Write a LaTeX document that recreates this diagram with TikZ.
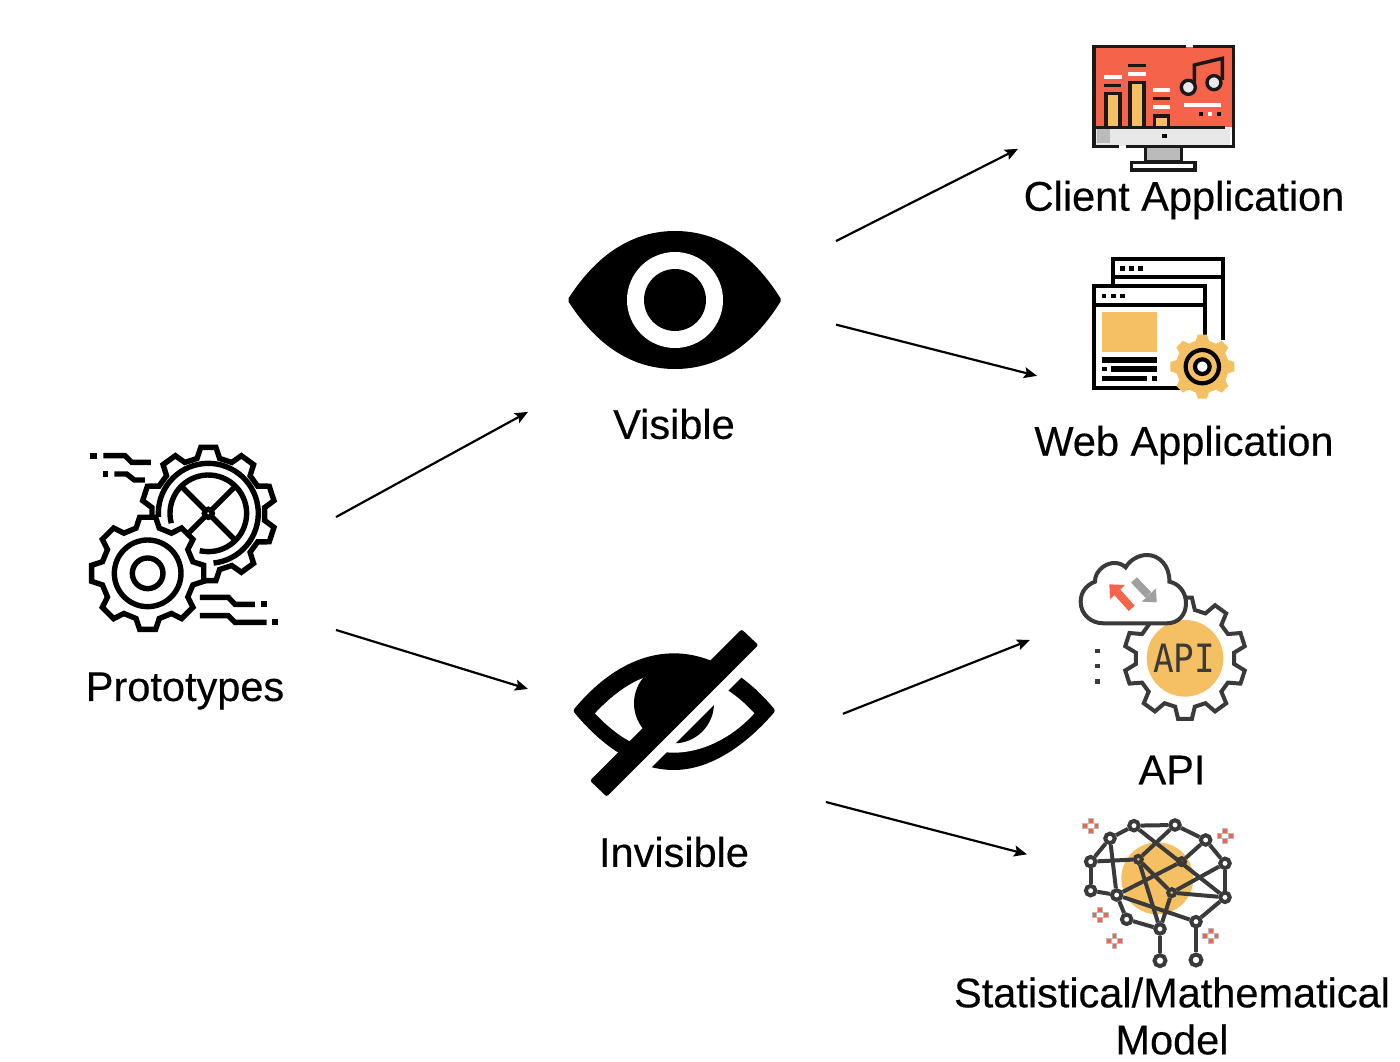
\documentclass[tikz,border=0pt]{standalone}
\usepackage{fontspec}
\setmainfont[FakeBold=0.3]{Liberation Sans}
\newfontfamily\apifont{DejaVu Sans Mono}
\usepackage{xcolor}
\usetikzlibrary{positioning, arrows.meta}
\definecolor{iconorange}{HTML}{F5C063}
\definecolor{iconred}{HTML}{F4634A}
\definecolor{icondark}{HTML}{3A3A3A}
\definecolor{icongray}{HTML}{BBBBBB}
\definecolor{iconpale}{HTML}{E8E8E8}
\newcommand{\gearpath}[6]{plot[samples at={0,...,#6}, variable=\t]
  ({#1+(mod(\t,4)<1.5 ? #3 : #4)*cos(\t*90/#5-45/#5-90+(mod(\t,2)<0.5 ? -20 : 20)/#5)},
   {#2+(mod(\t,4)<1.5 ? #3 : #4)*sin(\t*90/#5-45/#5-90+(mod(\t,2)<0.5 ? -20 : 20)/#5)}) -- cycle}
\newcommand{\ringarc}[5]{plot[domain=#4:#5, samples=50, variable=\t] ({#1+#3*cos(\t)},{#2+#3*sin(\t)})}
\newcommand{\sparkle}[2]{\foreach \dx/\dy in {0/-15,-17/0,17/0,0/15} {
    \filldraw[sparkdot] (#1+\dx-7,#2+\dy-7) rectangle (#1+\dx+7,#2+\dy+7);}}
\begin{document}
\begin{tikzpicture}[
  x=1pt, y=-1pt,
  iconbox/.style={rectangle, inner sep=0pt, outer sep=0pt},
  caption/.style={font=\fontsize{41.5}{47}\selectfont, align=center, inner sep=0pt},
  arrow/.style={-{Stealth[length=13pt, width=11pt, inset=2.5pt]}, line width=2.2pt, color=black},
  zoomgrid/.style={x=0.3333pt, y=-0.3333pt},
  ink/.style={draw=black, line width=5.4pt, line cap=butt},
  frameline/.style={draw=black!90, line width=3.4pt},
  cutline/.style={draw=icondark, line width=4pt},
  sparkdot/.style={fill=iconred, draw=icongray, line width=0.4pt},
  knot/.style={circle, draw=icondark, fill=white, line width=4pt, inner sep=0pt, minimum size=9.5pt},
  bigknot/.style={knot, minimum size=11pt},
  hotknot/.style={knot, fill=iconorange, minimum size=7pt},
  link/.style={draw=icondark, line width=4pt},
]
\useasboundingbox (0,0) rectangle (1400,1062);

\node[iconbox, minimum width=302pt, minimum height=240pt] (proto) at (185,575) {};
\node[iconbox, minimum width=308pt, minimum height=200pt, right=192pt of proto, yshift=245pt] (visible) {};
\node[iconbox, minimum width=315pt, minimum height=204pt, right=192pt of proto, yshift=-125pt] (invisible) {};
\node[iconbox, minimum width=290pt, minimum height=140pt, right=182pt of visible, yshift=220pt] (client) {};
\node[iconbox, minimum width=252pt, minimum height=150pt, right=201pt of visible] (web) {};
\node[iconbox, minimum width=270pt, minimum height=170pt, right=187pt of invisible, yshift=60pt] (api) {};
\node[iconbox, minimum width=266pt, minimum height=150pt, right=184pt of invisible, yshift=-195pt] (model) {};

\node[caption] (prototext) at (185,691) {Prototypes};
\node[caption] (visibletext) at (674,424) {Visible};
\node[caption] (invisibletext) at (674,852) {Invisible};
\node[caption] (clienttext) at (1184,200) {Client Application};
\node[caption] (webtext) at (1184,445) {Web Application};
\node[caption] (apitext) at (1172,770) {API};
\node[caption] (modeltext) at (1172,1016) {Statistical/Mathematical\\Model};

\draw[arrow] (proto.21.4) -- (visible.208);
\draw[arrow] (proto.-20.7) -- (invisible.176.37);
\draw[arrow] (visible.30.6) -- (client.195.05);
\draw[arrow] (visible.2.2) -- (web.200.06);
\draw[arrow] (invisible.-5.5) -- (api.west);
\draw[arrow] (invisible.-36.8) -- (model.163.66);

\begin{scope}[shift={(75,435)}, zoomgrid]
  \draw[ink, fill=white] \gearpath{400}{237}{201}{170}{10}{39};
  \draw[ink] \ringarc{400}{235}{150}{176}{444};
  \draw[ink] \ringarc{400}{235}{115}{165}{463};
  \foreach \ang in {45,135,225,315}
    \draw[ink] ({400+14*cos(\ang)},{235+14*sin(\ang)}) -- ({400+112*cos(\ang)},{235+112*sin(\ang)});
  \draw[ink] (400,235) circle[radius=12];
  \draw[ink, fill=white] \gearpath{218}{415}{170}{140}{8}{31};
  \draw[ink] (218,415) circle[radius=100];
  \draw[ink] (218,415) circle[radius=46];
  \draw[ink] (85,62) -- (150,62) -- (170,82) -- (228,82);
  \draw[ink] (118,117) -- (155,117) -- (178,135) -- (210,135);
  \draw[ink] (375,487) -- (460,487) -- (480,508) -- (540,508);
  \draw[ink] (375,542) -- (460,542) -- (480,562) -- (575,562);
  \fill (45,53) rectangle (65,71);
  \fill (83,108) rectangle (100,126);
  \fill (557,499) rectangle (575,517);
  \fill (592,553) rectangle (610,571);
\end{scope}

\fill[draw=black, line width=6pt, line join=round] (571,300) .. controls (600,255) and (635,234) .. (675,234)
  .. controls (715,234) and (750,255) .. (778,300) .. controls (750,345) and (715,366) .. (675,366)
  .. controls (635,366) and (600,345) .. (571,300) -- cycle;
\fill[white] (675,300) circle[radius=48];
\fill[black] (675,300) circle[radius=31];

\begin{scope}[shift={(555,620)}, zoomgrid]
  \fill[draw=black, line width=6pt, line join=round] (65,272) .. controls (150,170) and (250,109) .. (357,109)
    .. controls (465,109) and (570,175) .. (650,272) .. controls (570,365) and (465,441) .. (357,441)
    .. controls (250,441) and (150,375) .. (65,272) -- cycle;
  \fill[white] (120,280) .. controls (200,195) and (275,156) .. (357,156)
    .. controls (440,156) and (530,205) .. (598,280) .. controls (530,355) and (440,398) .. (357,398)
    .. controls (275,398) and (200,365) .. (120,280) -- cycle;
  \fill[black] (357,250) circle[radius=120];
  \fill[white] (700,-15) -- (747,-15) -- (147,585) -- (100,585) -- cycle;
  \fill[black, rounded corners=2pt] (560,28) -- (610,75) -- (155,530) -- (105,482) -- cycle;
\end{scope}

\begin{scope}[shift={(1060,30)}, zoomgrid]
  \fill[iconred] (105,50) rectangle (518,292);
  \fill[iconpale] (105,294) rectangle (510,348);
  \fill[icongray] (110,298) rectangle (150,340);
  \draw[frameline, fill=iconorange] (138,290) -- (138,190) -- (180,190) -- (180,290);
  \draw[frameline, fill=iconorange] (210,290) -- (210,158) -- (252,158) -- (252,290);
  \draw[frameline, fill=iconorange] (283,290) -- (283,258) -- (325,258) -- (325,290);
  \draw[frameline] (378,50) -- (102,50) -- (102,350) -- (178,350);
  \draw[frameline] (198,350) -- (520,350) -- (520,50) -- (398,50);
  \draw[frameline] (108,292) -- (495,292);
  \draw[frameline, fill=icongray] (257,350) rectangle (365,395);
  \draw[frameline, fill=white] (215,397) rectangle (405,420);
  \fill[black] (305,312) rectangle (322,325);
  \foreach \px/\py/\qx in {205/106/257,132/166/182,280/205/330}
    \draw[frameline] (\px,\py) -- (\qx,\py);
  \foreach \px/\py/\qx in {133/140/185,205/132/257,278/179/330,278/232/330,372/226/482}
    \draw[line width=4pt, draw=white] (\px,\py) -- (\qx,\py);
  \draw[frameline] (403,160) -- (403,105) -- (487,85) -- (487,150);
  \draw[frameline, fill=iconpale] (385,172) circle[radius=21];
  \draw[frameline, fill=iconpale] (462,158) circle[radius=21];
  \fill[black] (417,246) rectangle (429,258);
  \fill[white] (444,246) rectangle (456,258);
  \fill[black] (470,246) rectangle (482,258);
\end{scope}

\begin{scope}[shift={(1070,245)}, zoomgrid]
  \draw[ink, line width=4pt] (128,120) -- (128,42) -- (460,42) -- (460,285);
  \draw[ink, line width=4pt] (128,97) -- (460,97);
  \draw[ink, line width=4pt, fill=white] (72,123) rectangle (405,428);
  \draw[ink, line width=4pt] (72,180) -- (405,180);
  \fill[iconorange] (95,200) rectangle (260,322);
  \foreach \px in {157,185,212} \fill (\px-7,64) rectangle (\px+7,78);
  \foreach \px in {102,130,157} \fill (\px-7,146) rectangle (\px+7,160);
  \draw[ink] (95,345) -- (260,345);
  \draw[ink] (122,372) -- (260,372);
  \draw[ink] (95,400) -- (232,400);
  \fill (95,365) rectangle (110,379);
  \fill (247,393) rectangle (260,407);
  \fill[iconorange] \gearpath{397}{365}{97}{80}{8}{31};
  \draw[ink, line width=4.2pt] (397,365) circle[radius=50];
  \draw[ink, line width=4.2pt, fill=white] (397,365) circle[radius=22];
\end{scope}

\begin{scope}[shift={(1060,540)}, zoomgrid]
  \draw[cutline, fill=white] \gearpath{375}{355}{183}{148}{10}{39};
  \fill[iconorange] (375,355) circle[radius=115];
  \node[text=icondark, font=\apifont\fontsize{39}{39}\selectfont, xscale=0.88, inner sep=0pt] (apilogo) at (372,354) {API};
  \draw[cutline, fill=white] (130,250) -- (320,250) .. controls (355,250) and (378,225) .. (378,190)
    .. controls (378,155) and (355,130) .. (328,125) .. controls (330,75) and (295,45) .. (262,45)
    .. controls (235,45) and (210,60) .. (197,82) .. controls (180,65) and (150,65) .. (130,80)
    .. controls (110,95) and (105,110) .. (105,125) .. controls (80,135) and (62,155) .. (62,185)
    .. controls (62,225) and (95,250) .. (130,250) -- cycle;
  \draw[iconred, line width=8pt] (172,157) -- (215,205);
  \fill[iconred] (148,133) -- (195,135) -- (150,178) -- cycle;
  \draw[icongray!85!black, line width=8pt] (222,120) -- (265,165);
  \fill[icongray!85!black] (290,187) -- (245,185) -- (288,145) -- cycle;
  \foreach \py in {333,378,425} \fill[icondark] (106,\py-7) rectangle (120,\py+7);
\end{scope}

\begin{scope}[shift={(1070,810)}, zoomgrid]
  \fill[iconorange] (262,205) circle[radius=108];
  \foreach \name/\px/\py in {ka/192/47,kb/315/45,kc/120/85,kd/407/90,ke/62/155,kf/465/160,kg/62/242,kh/465/262,ki/140/255,km/170/328,kn/378/335,ko/270/357}
    \node[knot] (\name) at (\px,\py) {};
  \foreach \name/\px/\py in {kj/205/148,kk/335/155,kl/305/248}
    \node[hotknot] (\name) at (\px,\py) {};
  \foreach \name/\px/\py in {kp/270/452,kq/378/450}
    \node[bigknot] (\name) at (\px,\py) {};
  \foreach \from/\to in {ka/kb,ka/kc,kb/kd,kc/ke,kd/kf,ke/kg,kf/kh,kg/ki,ke/kj,kc/ki,kj/kb,ka/kh,kd/kk,kk/ki,kj/kl,kj/ko,kl/ko,kl/kh,kf/kl,ki/kn,ki/km,km/ko,kh/kn,kn/kq,ko/kp}
    \draw[link] (\from) -- (\to);
  \sparkle{62}{47}
  \sparkle{465}{77}
  \sparkle{90}{315}
  \sparkle{133}{393}
  \sparkle{422}{378}
\end{scope}
\end{tikzpicture}
\end{document}
